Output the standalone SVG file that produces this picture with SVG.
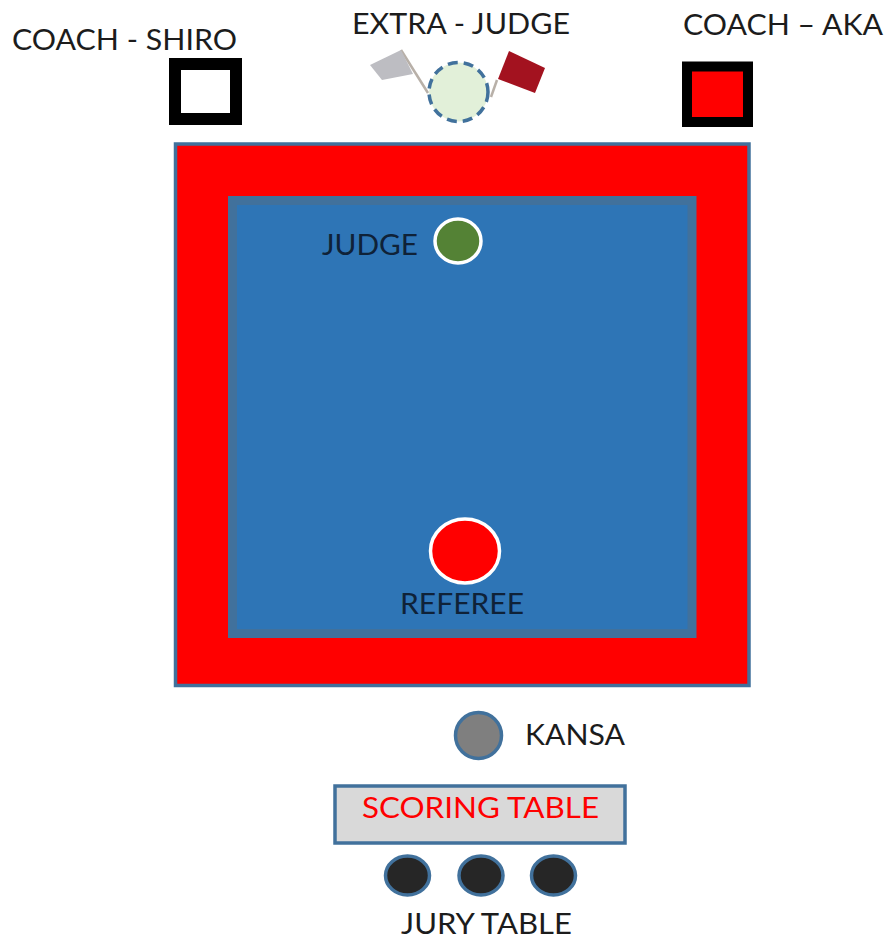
<svg xmlns="http://www.w3.org/2000/svg" width="891" height="944" viewBox="0 0 891 944">
<style>
text{font-family:"Lato","Open Sans","Liberation Sans",sans-serif;font-size:29px;fill:#1c1c1c}
.b{stroke:#41719c}
.coach{stroke:#000;stroke-linejoin:miter}
.pole{stroke:#b8b0a8;stroke-width:2.500;fill:none}
.jury{fill:#262626;stroke:#41719c;stroke-width:3.500}
</style>
<rect width="891" height="944" fill="#fff"/>
<g id="mat-outer"><rect x="175.500" y="144" width="573.500" height="541.500" fill="#f00" class="b" stroke-width="3.500"/></g>
<g id="mat-inner"><rect x="232.500" y="200.500" width="459.500" height="433" fill="#2e75b6" stroke="#41719c" stroke-width="9"/></g>
<g id="coach-shiro">
<rect class="coach" x="175" y="64" width="61" height="55" fill="#fff" stroke-width="12"/>
<text x="12" y="50" textLength="225" lengthAdjust="spacingAndGlyphs">COACH - SHIRO</text>
</g>
<g id="coach-aka">
<rect class="coach" x="687" y="66.500" width="61" height="55.500" fill="#f00" stroke-width="10"/>
<text x="683" y="35" textLength="200" lengthAdjust="spacingAndGlyphs">COACH – AKA</text>
</g>
<g id="extra-judge">
<line class="pole" x1="401" y1="50" x2="428" y2="93"/>
<line class="pole" x1="497" y1="80" x2="491" y2="97"/>
<polygon points="370,65 401,50 413,74 382,80" fill="#bdbdc2"/>
<polygon points="509,51 545,68 535,93 498,79" fill="#a3121f"/>
<circle cx="458.500" cy="92" r="29.500" fill="#e2f0d9" stroke="#41719c" stroke-width="3.500" stroke-dasharray="10 6"/>
<text x="352" y="34" textLength="218" lengthAdjust="spacingAndGlyphs">EXTRA - JUDGE</text>
</g>
<g id="judge">
<ellipse cx="458" cy="241" rx="23" ry="22" fill="#548235" stroke="#fff" stroke-width="3.500"/>
<text x="322" y="255" textLength="96" lengthAdjust="spacingAndGlyphs" style="fill:#0f2238">JUDGE</text>
</g>
<g id="referee">
<ellipse cx="465" cy="551" rx="34.500" ry="32" fill="#f00" stroke="#fff" stroke-width="3.500"/>
<text x="400" y="614" textLength="124" lengthAdjust="spacingAndGlyphs" style="fill:#0f2238">REFEREE</text>
</g>
<g id="kansa">
<circle cx="478.500" cy="735.500" r="23" fill="#7f7f7f" class="b" stroke-width="3.500"/>
<text x="525" y="745" textLength="100" lengthAdjust="spacingAndGlyphs">KANSA</text>
</g>
<g id="scoring-table">
<rect x="335" y="786" width="290" height="57" fill="#d9d9d9" class="b" stroke-width="3.500"/>
<text x="362" y="818" textLength="237" lengthAdjust="spacingAndGlyphs" style="fill:#f00">SCORING TABLE</text>
</g>
<g id="jury-table">
<ellipse class="jury" cx="407.500" cy="875.500" rx="22" ry="19.500"/>
<ellipse class="jury" cx="481" cy="875.500" rx="22" ry="19.500"/>
<ellipse class="jury" cx="553.500" cy="875.500" rx="22" ry="19.500"/>
<text x="401" y="934" textLength="171" lengthAdjust="spacingAndGlyphs">JURY TABLE</text>
</g>
</svg>
